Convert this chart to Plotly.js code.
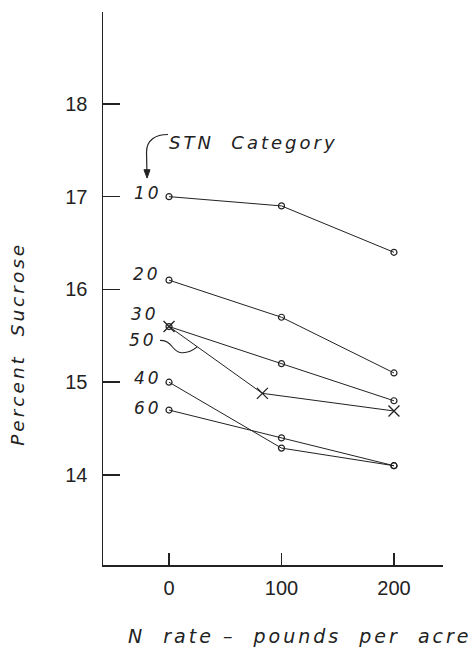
<!DOCTYPE html>
<html>
<head>
<meta charset="utf-8">
<script src="https://cdn.plot.ly/plotly-3.0.1.min.js"></script>
<style>
  html, body { margin: 0; padding: 0; background: #fff; }
  #chart { width: 475px; height: 653px; }
  .annotation-text { letter-spacing: 3px; }
</style>
</head>
<body>
<div id="chart"></div>
<script>
// ---- data ----
const nRate = [0, 100, 200];
const nRate50 = [0, 83, 200];
const stn10 = [17.0, 16.9, 16.4];
const stn20 = [16.1, 15.7, 15.1];
const stn30 = [15.6, 15.2, 14.8];
const stn40 = [15.0, 14.29, 14.1];
const stn50 = [15.6, 14.88, 14.69];
const stn60 = [14.7, 14.4, 14.1];
const categories = ['10', '20', '30', '40', '50', '60'];
const yTickVals = [14, 15, 16, 17, 18];
const xTickVals = [0, 100, 200];
const yTitle = 'Percent  Sucrose';
const xTitle = 'N  rate –  pounds  per  acre';
const legendTitle = 'STN  Category';

const ink = '#222';
const txtFont = { family: 'DejaVu Sans, Liberation Sans, sans-serif', size: 17, color: ink, style: 'italic' };

const seriesX = [nRate, nRate, nRate, nRate, nRate50, nRate];
const seriesY = [stn10, stn20, stn30, stn40, stn50, stn60];
const symbols = ['circle-open', 'circle-open', 'circle-open', 'circle-open', 'x-thin-open', 'circle-open'];
const labelShift = [[-5, 4], [-6, 6], [-8, 13], [-5, 4], [-10, -13], [-5, 2]];

const traces = categories.map((c, i) => ({
  x: seriesX[i], y: seriesY[i], name: c, type: 'scatter', mode: 'lines+markers',
  line: { color: ink, width: 1 },
  marker: symbols[i] === 'circle-open'
    ? { symbol: 'circle-open', size: 6, color: ink, line: { width: 1.2, color: ink } }
    : { symbol: 'x-thin-open', size: 11, color: ink, line: { width: 1.3, color: ink } },
  showlegend: false, hoverinfo: 'skip'
}));

const annotations = categories.map((c, i) => ({
  text: c, xref: 'x', yref: 'y', x: seriesX[i][0], y: seriesY[i][0],
  xanchor: 'right', yanchor: 'middle', xshift: labelShift[i][0], yshift: labelShift[i][1],
  showarrow: false, font: txtFont
}));
annotations.push({
  text: legendTitle, xref: 'x', yref: 'y', x: -1.5, y: 17.58,
  xanchor: 'left', yanchor: 'middle', showarrow: false,
  font: Object.assign({}, txtFont, { size: 18 })
});
annotations.push({
  text: xTitle, xref: 'paper', yref: 'paper', x: 0.58, y: -0.128,
  xanchor: 'center', yanchor: 'middle', showarrow: false,
  font: Object.assign({}, txtFont, { size: 19 })
});
annotations.push({
  text: yTitle, xref: 'paper', yref: 'paper', x: -0.25, y: 0.4,
  xanchor: 'center', yanchor: 'middle', textangle: -90, showarrow: false,
  font: Object.assign({}, txtFont, { size: 18.5 })
});

const shapes = [
  { type: 'path', xref: 'x', yref: 'y',
    path: 'M -0.9,17.67 C -12,17.67 -20,17.61 -20,17.48 L -19.7,17.29',
    line: { color: ink, width: 1.2 } },
  { type: 'path', xref: 'x', yref: 'y',
    path: 'M -22.3,17.29 L -16.9,17.29 L -19.5,17.2 Z',
    fillcolor: ink, line: { color: ink, width: 1 } },
  { type: 'path', xref: 'x', yref: 'y',
    path: 'M -8,15.45 C 2,15.46 3,15.33 10,15.32 C 16,15.31 20,15.33 25,15.38',
    line: { color: ink, width: 1.1 } }
];

const tickFont = { family: 'Liberation Sans, Arial, sans-serif', size: 20, color: ink };

const layout = {
  width: 475, height: 653,
  margin: { l: 103, r: 32, t: 12, b: 88, pad: 0 },
  paper_bgcolor: '#fff', plot_bgcolor: '#fff',
  showlegend: false,
  xaxis: {
    range: [-58.7, 243.6], tickvals: xTickVals, ticktext: xTickVals.map(String),
    ticks: 'inside', ticklen: 12, tickwidth: 1.3, tickcolor: ink,
    showline: true, linecolor: ink, linewidth: 1.5,
    showgrid: false, zeroline: false, tickfont: tickFont, ticklabelstandoff: 4
  },
  yaxis: {
    range: [13.03, 18.99], tickvals: yTickVals, ticktext: yTickVals.map(String),
    ticks: 'inside', ticklen: 17, tickwidth: 1.5, tickcolor: ink,
    showline: true, linecolor: ink, linewidth: 1.5,
    showgrid: false, zeroline: false, tickfont: tickFont, ticklabelstandoff: 10
  },
  annotations: annotations,
  shapes: shapes
};

Plotly.newPlot('chart', traces, layout, { staticPlot: true, displayModeBar: false });
</script>
</body>
</html>
